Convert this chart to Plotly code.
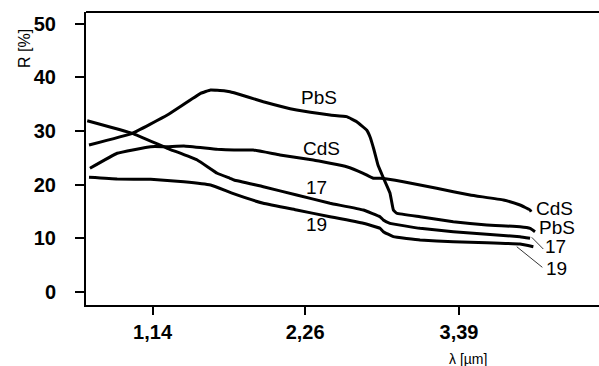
import plotly.graph_objects as go

# Reflectance spectra R [%] versus wavelength [µm]
pbs_x = [0.673, 0.991, 1.248, 1.493, 1.566, 1.664, 1.708, 1.738, 1.953, 2.198, 2.443, 2.565,
         2.639, 2.712, 2.737, 2.766, 2.795, 2.832, 2.883, 2.908, 2.933, 3.104, 3.348, 3.594,
         3.838, 3.912, 3.948]
pbs_r = [27.37, 29.55, 32.96, 37.00, 37.62, 37.49, 37.30, 37.10, 35.44, 33.89, 32.96, 32.65,
         31.71, 30.17, 28.86, 26.44, 23.64, 21.41, 18.43, 15.26, 14.65, 14.01, 13.08, 12.47,
         12.15, 11.85, 11.22]

cds_x = [0.680, 0.880, 1.126, 1.248, 1.370, 1.615, 1.738, 1.879, 2.075, 2.320, 2.565, 2.687,
         2.761, 2.810, 2.981, 3.226, 3.471, 3.716, 3.838, 3.912, 3.920]
cds_r = [23.03, 25.83, 27.06, 27.06, 27.19, 26.57, 26.44, 26.44, 25.51, 24.58, 23.33, 22.10,
         21.17, 21.17, 20.53, 19.30, 18.06, 17.12, 16.19, 15.26, 14.94]

s17_x = [0.660, 0.991, 1.248, 1.468, 1.615, 1.708, 1.738, 1.953, 2.198, 2.443, 2.687, 2.810,
         2.834, 2.883, 3.104, 3.348, 3.594, 3.838, 3.912]
s17_r = [31.90, 29.55, 26.76, 24.58, 22.10, 21.17, 20.85, 19.60, 18.06, 16.51, 15.26, 14.01,
         13.40, 12.78, 11.85, 11.22, 10.73, 10.29, 9.99]

s19_x = [0.673, 0.880, 1.126, 1.370, 1.566, 1.723, 1.953, 2.198, 2.443, 2.687, 2.810,
         2.834, 2.908, 3.104, 3.348, 3.594, 3.838, 3.936]
s19_r = [21.35, 21.04, 20.98, 20.53, 19.92, 18.40, 16.51, 15.26, 14.01, 12.78, 11.85,
         11.22, 10.29, 9.67, 9.35, 9.17, 8.93, 8.42]

x_ticks = [1.14, 2.26, 3.39]
x_tick_text = ["1,14", "2,26", "3,39"]
y_ticks = [0, 10, 20, 30, 40, 50]

# Curve labels: (text, x, y)
labels = [
    ("PbS", 2.362, 36.13),
    ("CdS", 2.377, 26.81),
    ("17", 2.340, 19.36),
    ("19", 2.340, 12.47),
    ("CdS", 4.088, 15.45),
    ("PbS", 4.110, 12.09),
    ("17", 4.095, 8.37),
    ("19", 4.103, 4.45),
]
# Thin leader lines from curve ends to their labels: (x0, y0, x1, y1)
leaders = [
    (3.924, 10.17, 4.009, 7.99),
    (3.814, 8.42, 4.002, 4.58),
]

FONT = "Liberation Sans, Arial, sans-serif"

fig = go.Figure()
for xs, ys in [(pbs_x, pbs_r), (cds_x, cds_r), (s17_x, s17_r), (s19_x, s19_r)]:
    fig.add_trace(go.Scatter(x=xs, y=ys, mode="lines",
                             line=dict(color="black", width=3, shape="spline", smoothing=0.25),
                             showlegend=False, hoverinfo="skip"))

for x0, y0, x1, y1 in leaders:
    fig.add_shape(type="line", x0=x0, y0=y0, x1=x1, y1=y1, xref="x", yref="y",
                  line=dict(color="black", width=0.8))

for text, x, y in labels:
    fig.add_annotation(x=x, y=y, text=text, showarrow=False, xref="x", yref="y",
                       xanchor="center", yanchor="middle",
                       font=dict(family=FONT, size=19, color="black"))

# Top frame line
fig.add_shape(type="line", xref="paper", yref="paper", x0=0, x1=1, y0=1, y1=1,
              line=dict(color="black", width=2))

fig.add_annotation(xref="paper", yref="paper", x=-0.1209, y=0.877, text="R [%]",
                   textangle=-90, showarrow=False, xanchor="center", yanchor="middle",
                   font=dict(family=FONT, size=16, color="black"))
fig.add_annotation(xref="paper", yref="paper", x=0.7446, y=-0.184, text="λ [µm]",
                   showarrow=False, xanchor="center", yanchor="middle",
                   font=dict(family=FONT, size=14, color="black"))

fig.update_xaxes(range=[0.651, 4.418], tickvals=x_ticks, ticktext=x_tick_text,
                 ticks="outside", ticklen=8, tickwidth=2, tickcolor="black",
                 showline=True, linecolor="black", linewidth=2, showgrid=False, zeroline=False,
                 tickfont=dict(family=FONT, size=20, color="black", weight="bold"))
fig.update_yaxes(range=[-2.44, 52.15], tickvals=y_ticks,
                 ticks="outside", ticklen=9, tickwidth=2, tickcolor="black",
                 showline=True, linecolor="black", linewidth=2, showgrid=False, zeroline=False,
                 ticklabelstandoff=15,
                 tickfont=dict(family=FONT, size=20, color="black", weight="bold"))

fig.update_layout(width=599, height=366, margin=dict(l=86, r=0, t=12, b=61),
                  plot_bgcolor="white", paper_bgcolor="white")

fig.write_html("out.html")
